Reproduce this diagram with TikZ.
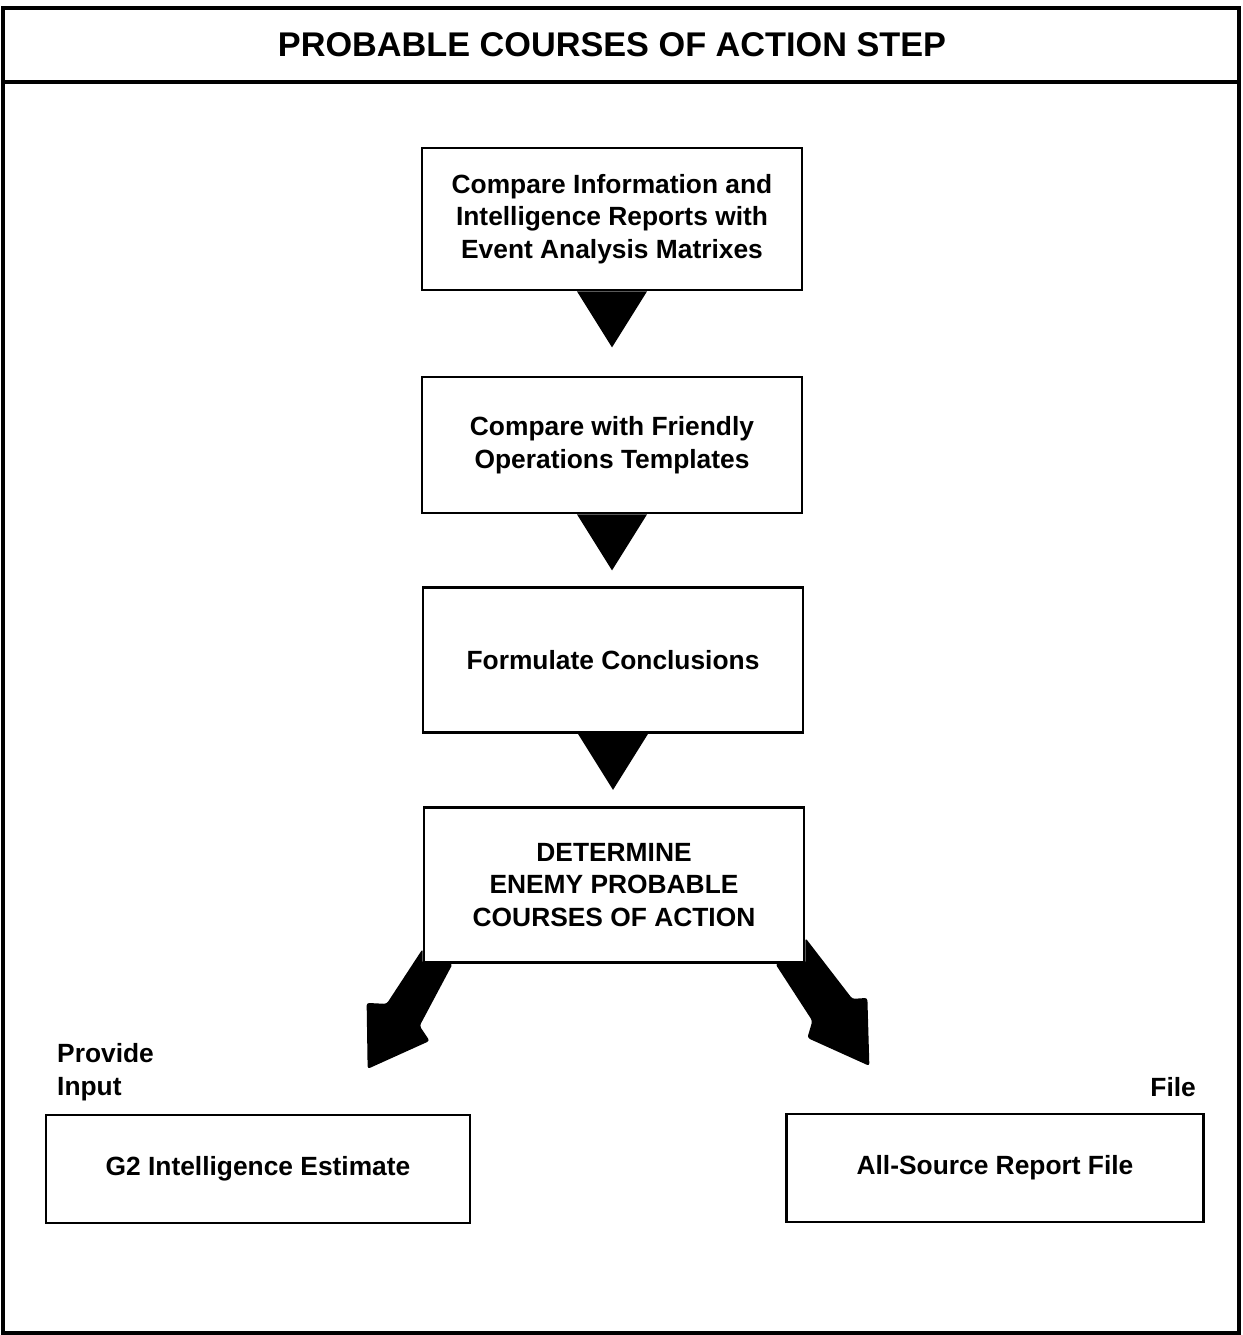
\documentclass[tikz,border=0pt]{standalone}
\usepackage{fontspec}
\setmainfont{Liberation Sans}
\usetikzlibrary{calc}

\begin{document}
\begin{tikzpicture}[x=0.02cm, y=-0.02cm,
    stepbox/.style={draw, line width=1.6pt, minimum width=7.6cm, align=center,
      font=\fontsize{15}{18.5}\selectfont\bfseries},
    outbox/.style={draw, line width=1.6pt, minimum height=2.16cm, align=center,
      font=\fontsize{15}{18.5}\selectfont\bfseries},
    tag/.style={align=left, font=\fontsize{15}{18.5}\selectfont\bfseries}]
        \useasboundingbox (0,0) rectangle (1242,1335);
        % frame and title bar
        \draw [line width=1.9pt] (3,8) rectangle (1239,1333);
        \draw [line width=1.9pt] (3,82) -- (1239,82);
        \node (title) at (612,45) {\fontsize{19.5}{22}\selectfont\bfseries PROBABLE COURSES OF ACTION STEP};
        % the four steps
        \node [stepbox, minimum height=2.84cm] (cmp) at (612,219) {Compare Information and\\Intelligence Reports with\\Event Analysis Matrixes};
        \node [stepbox, minimum height=2.72cm] (tmpl) at (612,445) {Compare with Friendly\\Operations Templates};
        \node [stepbox, minimum height=2.9cm] (concl) at (613,660) {Formulate Conclusions};
        \node [stepbox, minimum height=3.1cm] (det) at (614,885) {DETERMINE\\ENEMY PROBABLE\\COURSES OF ACTION};
        % down triangles between the steps
        \fill ($(cmp.south)+(-35,0)$) -- ($(cmp.south)+(35,0)$) -- ($(cmp.south)+(0,56)$) -- cycle;
        \fill ($(tmpl.south)+(-35,0)$) -- ($(tmpl.south)+(35,0)$) -- ($(tmpl.south)+(0,56)$) -- cycle;
        \fill ($(concl.south)+(-35,0)$) -- ($(concl.south)+(35,0)$) -- ($(concl.south)+(0,56)$) -- cycle;
        % outputs
        \node [outbox, minimum width=8.48cm] (est) at (258,1169) {G2 Intelligence Estimate};
        \node [outbox, minimum width=8.34cm] (file) at (995,1168) {All-Source Report File};
        \node [tag, anchor=west] (prov) at (51,1072) {Provide\\Input};
        \node [tag, anchor=east] (filetag) at (1202,1087) {File};
        % thick arrows out of the last step
        \fill [rounded corners=1.5pt] ($(det.south west)+(0,-15)$) -- (det.south west) -- ($(det.south west)+(30,0)$)
          -- ($(det.south west)+(-3,62)$) -- ($(det.south west)+(7,77)$)
          -- ($(det.south west)+(-55,105)$) -- ($(det.south west)+(-56,39)$)
          -- ($(det.south west)+(-36,40)$) -- cycle;
        \fill [rounded corners=1.5pt] ($(det.south east)+(0,-26)$) -- ($(det.south east)+(47,35)$)
          -- ($(det.south east)+(62,34)$) -- ($(det.south east)+(64,102)$)
          -- ($(det.south east)+(2,74)$) -- ($(det.south east)+(7,57)$)
          -- ($(det.south east)+(-30,0)$) -- (det.south east) -- cycle;
\end{tikzpicture}
\end{document}
